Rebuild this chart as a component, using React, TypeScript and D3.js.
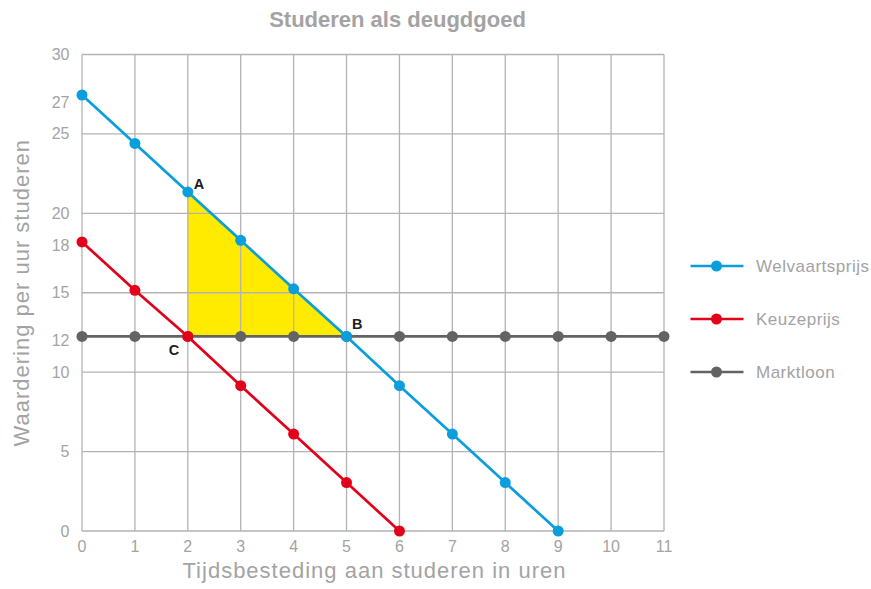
import React from "react";
import * as d3 from "d3";

// Hours spent studying (x) and valuation per hour (y)
const hours = [0, 1, 2, 3, 4, 5, 6, 7, 8, 9, 10, 11];
const welvaartsprijs = [27.45, 24.4, 21.35, 18.3, 15.25, 12.25, 9.15, 6.1, 3.05, 0];
const keuzeprijs = [18.2, 15.15, 12.25, 9.15, 6.1, 3.05, 0];
const marktloon = [12.25, 12.25, 12.25, 12.25, 12.25, 12.25, 12.25, 12.25, 12.25, 12.25, 12.25, 12.25];
const yTickLabels = [0, 5, 10, 12, 15, 18, 20, 25, 27, 30];
const yGrid = [0, 5, 10, 15, 20, 25, 30];
const xTicks = [0, 1, 2, 3, 4, 5, 6, 7, 8, 9, 10, 11];

// Surplus triangle A-B-C
const triangle: [number, number][] = [
  [2, welvaartsprijs[2]],
  [5, welvaartsprijs[5]],
  [2, marktloon[2]],
];
const pointLabels = [
  { label: "A", x: 2, y: welvaartsprijs[2] },
  { label: "B", x: 5, y: welvaartsprijs[5] },
  { label: "C", x: 2, y: keuzeprijs[2] },
];

const series = [
  { name: "Welvaartsprijs", values: welvaartsprijs, color: "#0a9edc" },
  { name: "Keuzeprijs", values: keuzeprijs, color: "#e2001a" },
  { name: "Marktloon", values: marktloon, color: "#636363" },
];

const W = 871;
const H = 589;
const font = "'Liberation Sans', Arial, sans-serif";
const textGrey = "#a3a3a3";
const gridGrey = "#b3b3b3";

export default function App() {
  const x = d3.scaleLinear().domain([0, 11]).range([82, 664]);
  const y = d3.scaleLinear().domain([0, 30]).range([531, 54.5]);

  const line = d3
    .line<number>()
    .x((_, i) => x(hours[i]))
    .y((d) => y(d));

  const area = d3
    .line<[number, number]>()
    .x((d) => x(d[0]))
    .y((d) => y(d[1]));

  const labelOffsets: Record<string, [number, number]> = {
    A: [6, -2.5],
    B: [5.5, -7.5],
    C: [-19, 19],
  };

  return (
    <svg
      width={W}
      height={H}
      style={{ position: "absolute", left: 0, top: 0, background: "#fff" }}
      fontFamily={font}
    >
      <text
        x={397.5}
        y={27}
        textAnchor="middle"
        fontSize={22}
        fontWeight="bold"
        fill={textGrey}
      >
        Studeren als deugdgoed
      </text>

      {/* surplus area, under the grid */}
      <path d={area(triangle) + "Z"} fill="#ffeb00" />

      {/* grid */}
      {xTicks.map((t) => (
        <line
          key={"gx" + t}
          x1={x(t)}
          x2={x(t)}
          y1={y(30)}
          y2={y(0)}
          stroke={gridGrey}
          strokeWidth={1.3}
        />
      ))}
      {yGrid.map((t) => (
        <line
          key={"gy" + t}
          x1={x(0)}
          x2={x(11)}
          y1={y(t)}
          y2={y(t)}
          stroke={gridGrey}
          strokeWidth={1.3}
        />
      ))}

      {/* tick labels */}
      {yTickLabels.map((t) => (
        <text
          key={"ty" + t}
          x={69.5}
          y={y(t) + 5.5}
          textAnchor="end"
          fontSize={16}
          fill={textGrey}
        >
          {t}
        </text>
      ))}
      {xTicks.map((t) => (
        <text
          key={"tx" + t}
          x={x(t)}
          y={552}
          textAnchor="middle"
          fontSize={16}
          fill={textGrey}
        >
          {t}
        </text>
      ))}

      {/* axis titles */}
      <text
        x={374.5}
        y={578}
        textAnchor="middle"
        fontSize={22}
        letterSpacing={1}
        fill={textGrey}
      >
        Tijdsbesteding aan studeren in uren
      </text>
      <text
        transform={`translate(29, ${y(15)}) rotate(-90)`}
        textAnchor="middle"
        fontSize={22}
        letterSpacing={1}
        fill={textGrey}
      >
        Waardering per uur studeren
      </text>

      {/* series lines and markers (drawn bottom to top) */}
      {[...series].reverse().map((s) => (
        <g key={s.name}>
          <path
            d={line(s.values) || ""}
            fill="none"
            stroke={s.color}
            strokeWidth={2.7}
          />
          {s.values.map((v, i) => (
            <circle
              key={i}
              cx={x(hours[i])}
              cy={y(v)}
              r={5.5}
              fill={s.color}
            />
          ))}
        </g>
      ))}

      {/* point labels */}
      {pointLabels.map((p) => (
        <text
          key={p.label}
          x={x(p.x) + labelOffsets[p.label][0]}
          y={y(p.y) + labelOffsets[p.label][1]}
          fontSize={14.5}
          fontWeight="bold"
          fill="#1e1e1e"
        >
          {p.label}
        </text>
      ))}

      {/* legend */}
      {series.map((s, i) => {
        const ly = 266 + i * 53;
        return (
          <g key={"lg" + s.name}>
            <line
              x1={690.5}
              x2={743.5}
              y1={ly}
              y2={ly}
              stroke={s.color}
              strokeWidth={2.7}
            />
            <circle cx={716.5} cy={ly} r={5.5} fill={s.color} />
            <text
              x={756}
              y={ly + 6}
              fontSize={17}
              letterSpacing={0.5}
              fill={textGrey}
            >
              {s.name}
            </text>
          </g>
        );
      })}
    </svg>
  );
}
